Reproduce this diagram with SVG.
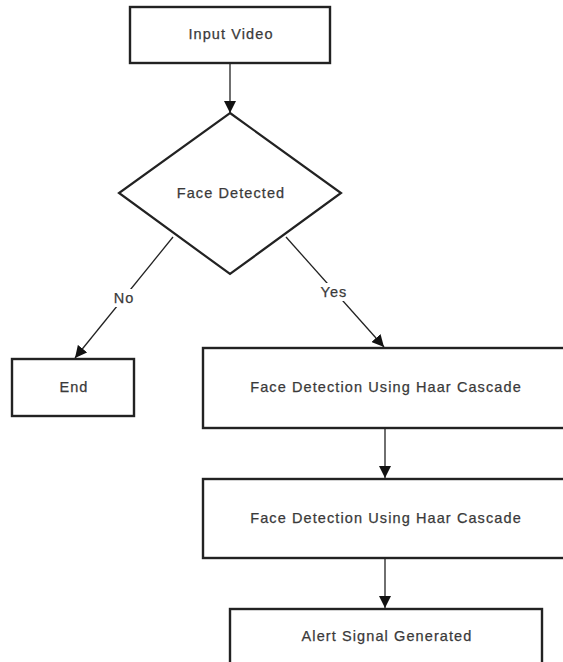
<svg xmlns="http://www.w3.org/2000/svg" width="563" height="662" viewBox="0 0 563 662">
<defs>
<marker id="arr" viewBox="0 0 10 10" refX="10" refY="5" markerWidth="12" markerHeight="12" markerUnits="userSpaceOnUse" orient="auto">
<path d="M0,0 L10,5 L0,10 z" fill="#111"/>
</marker>
<style>
.box{fill:#fff;stroke:#222;stroke-width:2.4}
.dia{fill:#fff;stroke:#222;stroke-width:2.2}
.t{font-family:"Liberation Sans",Arial,sans-serif;font-size:14.5px;fill:#3a3a3a;stroke:#3a3a3a;stroke-width:0.25;text-anchor:middle;dominant-baseline:central;letter-spacing:1.1px}
.c{stroke:#222;stroke-width:1.3;fill:none;marker-end:url(#arr)}
.lbg{fill:#fff}
</style>
</defs>
<rect width="563" height="662" fill="#fff"/>
<g id="connectors">
<line class="c" x1="230" y1="63" x2="230" y2="113"/>
<line class="c" x1="173" y1="237" x2="75" y2="358"/>
<line class="c" x1="286" y1="237" x2="384" y2="347"/>
<line class="c" x1="385" y1="428" x2="385" y2="478"/>
<line class="c" x1="385" y1="558" x2="385" y2="608"/>
<rect class="lbg" x="111" y="289" width="24" height="18"/>
<text class="t" x="124" y="298">No</text>
<rect class="lbg" x="319" y="283" width="29" height="18"/>
<text class="t" x="334" y="292">Yes</text>
</g>
<g id="input-video">
<rect class="box" x="130" y="7" width="200" height="56"/>
<text class="t" x="231" y="34">Input Video</text>
</g>
<g id="face-detected">
<polygon class="dia" points="230,113 341,193 230,274 119,193"/>
<text class="t" x="231" y="193">Face Detected</text>
</g>
<g id="end">
<rect class="box" x="12" y="359" width="122" height="57"/>
<text class="t" x="74" y="387">End</text>
</g>
<g id="haar1">
<rect class="box" x="203" y="348" width="364" height="80"/>
<text class="t" x="386" y="387">Face Detection Using Haar Cascade</text>
</g>
<g id="haar2">
<rect class="box" x="203" y="479" width="364" height="79"/>
<text class="t" x="386" y="518">Face Detection Using Haar Cascade</text>
</g>
<g id="alert">
<rect class="box" x="230" y="609" width="312" height="60"/>
<text class="t" x="387" y="636">Alert Signal Generated</text>
</g>
</svg>
